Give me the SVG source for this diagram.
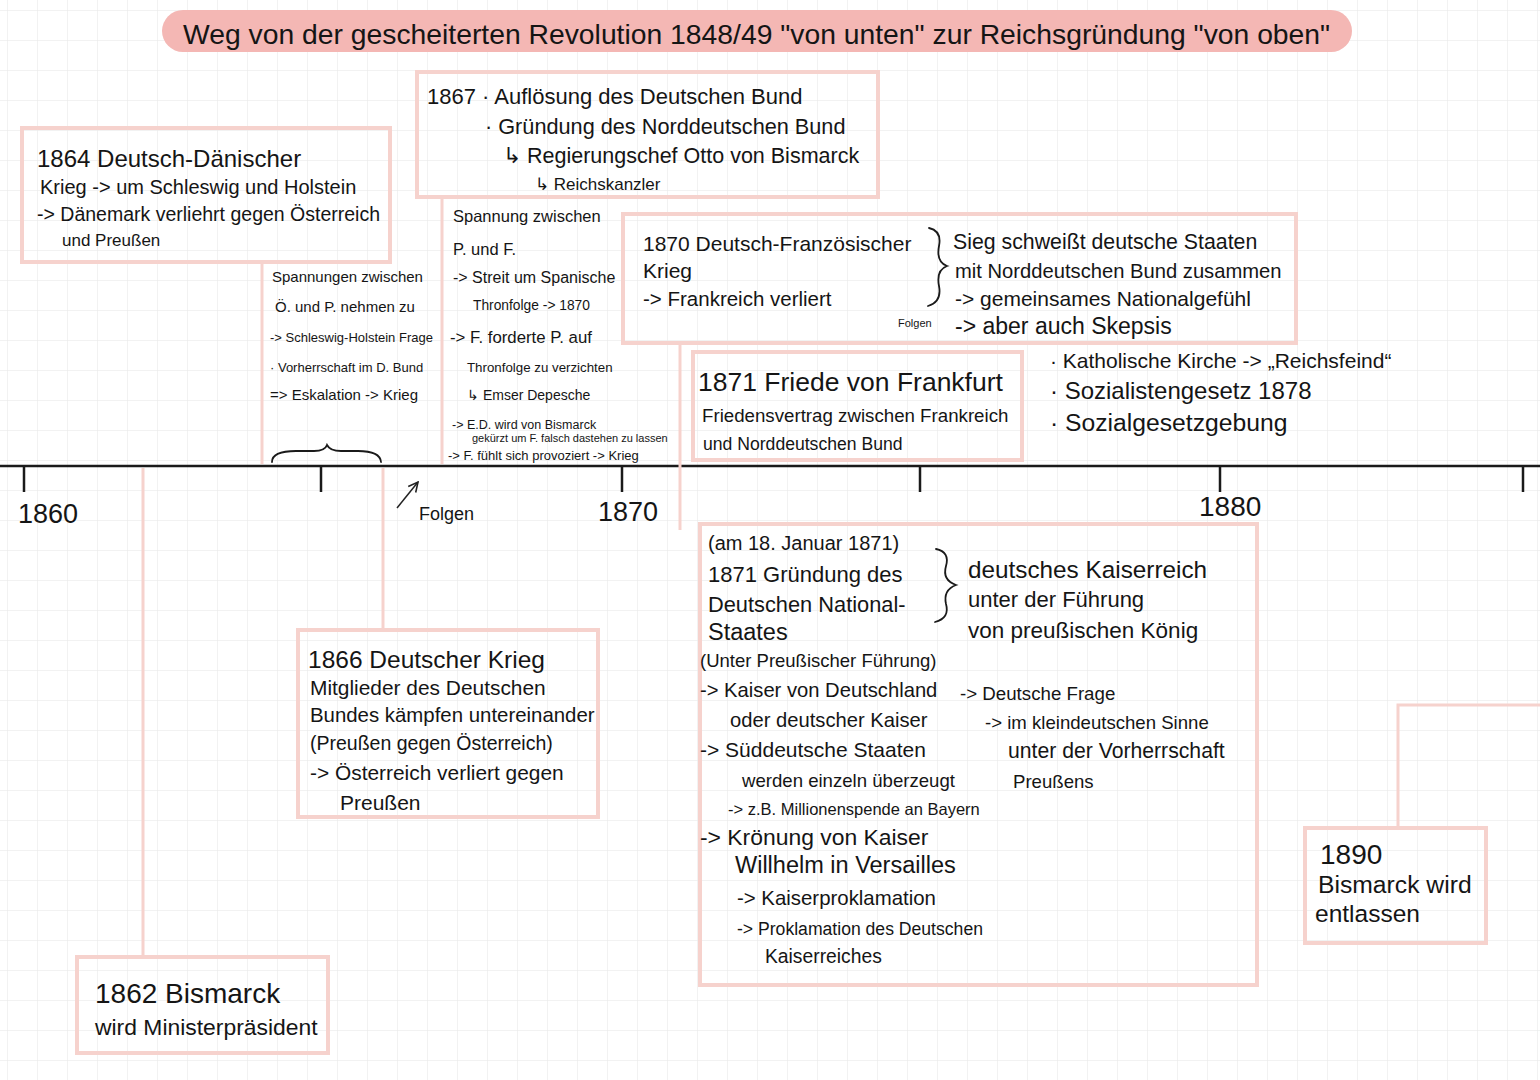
<svg xmlns="http://www.w3.org/2000/svg" width="1540" height="1080" viewBox="0 0 1540 1080">
<defs>
<pattern id="grid" x="7" y="10" width="30" height="30" patternUnits="userSpaceOnUse">
<path d="M 0 0 L 0 30 M 0 0 L 30 0" fill="none" stroke="#e6e6e6" stroke-width="1"/>
</pattern>
<marker id="arr" viewBox="0 0 10 10" refX="9" refY="5" markerWidth="8" markerHeight="8" orient="auto-start-reverse">
<path d="M 1 1 L 9 5 L 1 9" fill="none" stroke="#222" stroke-width="1.3"/>
</marker>
</defs>
<style>
text{font-family:"Liberation Sans","Noto Sans",sans-serif;fill:#151515}
.box{fill:none;stroke:#f6d2cd;stroke-width:4}
.con{fill:none;stroke:#f6d2cd;stroke-width:3}
.axis{stroke:#1a1a1a;stroke-width:2.5;fill:none}
.brace{fill:none;stroke:#1a1a1a;stroke-width:1.8;stroke-linecap:round}
</style>
<rect width="1540" height="1080" fill="#ffffff"/>
<rect width="1540" height="1080" fill="url(#grid)"/>

<g id="title">
<rect x="162" y="10" width="1190" height="42" rx="21" fill="#f4b7b4"/>
<text x="183" y="44" font-size="28.3">Weg von der gescheiterten Revolution 1848/49 "von unten" zur Reichsgründung "von oben"</text>
</g>

<g id="connectors">
<line class="axis" x1="0" y1="466" x2="1540" y2="466"/>
<line class="axis" x1="24" y1="466" x2="24" y2="492"/>
<line class="axis" x1="321" y1="466" x2="321" y2="492"/>
<line class="axis" x1="622" y1="466" x2="622" y2="492"/>
<line class="axis" x1="920" y1="466" x2="920" y2="492"/>
<line class="axis" x1="1220" y1="466" x2="1220" y2="492"/>
<line class="axis" x1="1523" y1="466" x2="1523" y2="492"/>
<line class="con" x1="143" y1="468" x2="143" y2="957"/>
<line class="con" x1="383" y1="468" x2="383" y2="630"/>
<line class="con" x1="680" y1="343" x2="680" y2="530"/>
<line class="con" x1="262" y1="262" x2="262" y2="464"/>
<line class="con" x1="442" y1="197" x2="442" y2="464"/>
<polyline class="con" points="1540,705 1398,705 1398,828"/>
<line x1="397" y1="508" x2="418" y2="482" stroke="#222" stroke-width="1.5" marker-end="url(#arr)"/>
</g>

<g id="axis-labels">
<text x="18" y="523" font-size="27">1860</text>
<text x="598" y="521" font-size="27">1870</text>
<text x="1199" y="516" font-size="28">1880</text>
<text x="419" y="520" font-size="18">Folgen</text>
</g>

<g id="n1864">
<rect class="box" x="22" y="128" width="368" height="134"/>
<text x="37" y="167" font-size="24">1864 Deutsch-Dänischer</text>
<text x="40" y="194" font-size="20">Krieg -&gt; um Schleswig und Holstein</text>
<text x="37" y="221" font-size="19.5">-&gt; Dänemark verliehrt gegen Österreich</text>
<text x="62" y="246" font-size="17">und Preußen</text>
</g>

<g id="n1867">
<rect class="box" x="417" y="72" width="461" height="125"/>
<text x="427" y="104" font-size="22">1867 · Auflösung des Deutschen Bund</text>
<text x="485" y="134" font-size="21.7">· Gründung des Norddeutschen Bund</text>
<text x="503" y="163" font-size="21.5">↳ Regierungschef Otto von Bismarck</text>
<text x="535" y="190" font-size="17">↳ Reichskanzler</text>
</g>

<g id="spannungen-oe-p">
<text x="272" y="282" font-size="15">Spannungen zwischen</text>
<text x="275" y="312" font-size="15">Ö. und P. nehmen zu</text>
<text x="270" y="342" font-size="13">-&gt; Schleswig-Holstein Frage</text>
<text x="270" y="372" font-size="13">· Vorherrschaft im D. Bund</text>
<text x="270" y="400" font-size="15">=&gt; Eskalation -&gt; Krieg</text>
<path class="brace" d="M 272 462 Q 272 451 296 451 L 314 451 Q 325 451 327 445 Q 330 451 341 451 L 358 451 Q 380 451 381 462"/>
</g>

<g id="spannung-p-f">
<text x="453" y="222" font-size="16.5">Spannung zwischen</text>
<text x="453" y="255" font-size="16.5">P. und F.</text>
<text x="453" y="283" font-size="16">-&gt; Streit um Spanische</text>
<text x="473" y="310" font-size="13.8">Thronfolge -&gt; 1870</text>
<text x="450" y="343" font-size="16.8">-&gt; F. forderte P. auf</text>
<text x="467" y="372" font-size="13.3">Thronfolge zu verzichten</text>
<text x="467" y="400" font-size="14">↳ Emser Depesche</text>
<text x="452" y="429" font-size="12.5">-&gt; E.D. wird von Bismarck</text>
<text x="472" y="442" font-size="11">gekürzt um F. falsch dastehen zu lassen</text>
<text x="448" y="460" font-size="13">-&gt; F. fühlt sich provoziert -&gt; Krieg</text>
</g>

<g id="n1870">
<rect class="box" x="623" y="214" width="673" height="129"/>
<text x="643" y="251" font-size="21">1870 Deutsch-Französischer</text>
<text x="643" y="278" font-size="21">Krieg</text>
<text x="643" y="306" font-size="20.5">-&gt; Frankreich verliert</text>
<path class="brace" d="M 929 228 Q 942 231 939 246 Q 936 262 947 266 Q 936 270 939 286 Q 942 302 928 306"/>
<text x="898" y="327" font-size="11">Folgen</text>
<text x="953" y="249" font-size="21.3">Sieg schweißt deutsche Staaten</text>
<text x="955" y="278" font-size="20.2">mit Norddeutschen Bund zusammen</text>
<text x="955" y="306" font-size="21">-&gt; gemeinsames Nationalgefühl</text>
<text x="955" y="334" font-size="23">-&gt; aber auch Skepsis</text>
</g>

<g id="n1871-friede">
<rect class="box" x="693" y="352" width="329" height="108"/>
<text x="698" y="391" font-size="26.5">1871 Friede von Frankfurt</text>
<text x="702" y="422" font-size="18.7">Friedensvertrag zwischen Frankreich</text>
<text x="703" y="450" font-size="17.6">und Norddeutschen Bund</text>
</g>

<g id="innenpolitik">
<text x="1050" y="368" font-size="21">· Katholische Kirche -&gt; „Reichsfeind“</text>
<text x="1050" y="399" font-size="24">· Sozialistengesetz 1878</text>
<text x="1050" y="431" font-size="24.7">· Sozialgesetzgebung</text>
</g>

<g id="n1866">
<rect class="box" x="298" y="630" width="300" height="187"/>
<text x="308" y="668" font-size="24.5">1866 Deutscher Krieg</text>
<text x="310" y="695" font-size="20.9">Mitglieder des Deutschen</text>
<text x="310" y="722" font-size="20.4">Bundes kämpfen untereinander</text>
<text x="310" y="750" font-size="19.5">(Preußen gegen Österreich)</text>
<text x="310" y="780" font-size="20.9">-&gt; Österreich verliert gegen</text>
<text x="340" y="810" font-size="21">Preußen</text>
</g>

<g id="n1871-gruendung">
<rect class="box" x="700" y="524" width="557" height="461"/>
<text x="708" y="550" font-size="20">(am 18. Januar 1871)</text>
<text x="708" y="582" font-size="22">1871 Gründung des</text>
<text x="708" y="612" font-size="21.8">Deutschen National-</text>
<text x="708" y="640" font-size="23.5">Staates</text>
<text x="700" y="667" font-size="18.5">(Unter Preußischer Führung)</text>
<text x="700" y="697" font-size="20.2">-&gt; Kaiser von Deutschland</text>
<text x="730" y="727" font-size="20.2">oder deutscher Kaiser</text>
<text x="700" y="757" font-size="21">-&gt; Süddeutsche Staaten</text>
<text x="742" y="787" font-size="18.6">werden einzeln überzeugt</text>
<text x="728" y="815" font-size="16.5">-&gt; z.B. Millionenspende an Bayern</text>
<text x="700" y="845" font-size="22.9">-&gt; Krönung von Kaiser</text>
<text x="735" y="873" font-size="23.5">Willhelm in Versailles</text>
<text x="737" y="905" font-size="20.4">-&gt; Kaiserproklamation</text>
<text x="737" y="935" font-size="17.6">-&gt; Proklamation des Deutschen</text>
<text x="765" y="963" font-size="19.3">Kaiserreiches</text>
<path class="brace" d="M 936 549 Q 950 552 946 566 Q 942 580 956 585 Q 943 590 946 604 Q 950 618 935 622"/>
<text x="968" y="578" font-size="24.3">deutsches Kaiserreich</text>
<text x="968" y="607" font-size="22">unter der Führung</text>
<text x="968" y="638" font-size="22.5">von preußischen König</text>
<text x="960" y="700" font-size="18.7">-&gt; Deutsche Frage</text>
<text x="985" y="729" font-size="18.6">-&gt; im kleindeutschen Sinne</text>
<text x="1008" y="758" font-size="21.2">unter der Vorherrschaft</text>
<text x="1013" y="788" font-size="18.6">Preußens</text>
</g>

<g id="n1862">
<rect class="box" x="77" y="957" width="251" height="96"/>
<text x="95" y="1003" font-size="28">1862 Bismarck</text>
<text x="95" y="1035" font-size="22.9">wird Ministerpräsident</text>
</g>

<g id="n1890">
<rect class="box" x="1305" y="828" width="181" height="115"/>
<text x="1320" y="864" font-size="28">1890</text>
<text x="1318" y="893" font-size="24.7">Bismarck wird</text>
<text x="1315" y="922" font-size="24.5">entlassen</text>
</g>
</svg>
